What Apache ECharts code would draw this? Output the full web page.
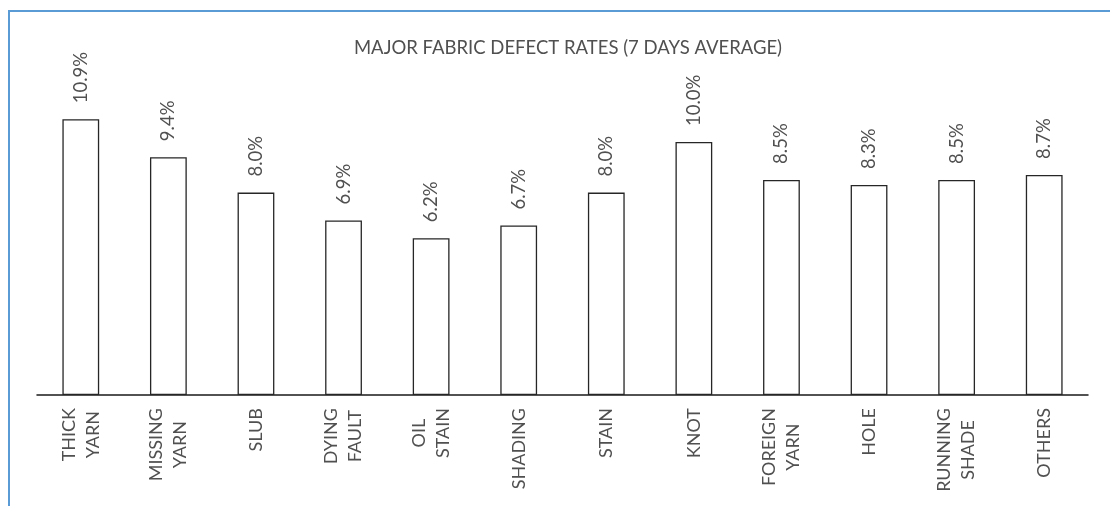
<!DOCTYPE html>
<html>
<head>
<meta charset="utf-8">
<title>Major Fabric Defect Rates</title>
<script src="https://cdn.jsdelivr.net/npm/echarts@6/dist/echarts.min.js"></script>
<style>
  html, body { margin: 0; padding: 0; background: #ffffff; }
  #chart { width: 1110px; height: 506px; }
</style>
</head>
<body>
<div id="chart"></div>
<script>
// Defect categories (two-line names are split on "\n")
const categories = [
  'THICK\nYARN', 'MISSING\nYARN', 'SLUB', 'DYING\nFAULT', 'OIL\nSTAIN', 'SHADING',
  'STAIN', 'KNOT', 'FOREIGN\nYARN', 'HOLE', 'RUNNING\nSHADE', 'OTHERS'
];
// 7-day average defect rate, in percent
const defectRates = [10.9, 9.4, 8.0, 6.9, 6.2, 6.7, 8.0, 10.0, 8.5, 8.3, 8.5, 8.7];
const chartTitle = 'MAJOR FABRIC DEFECT RATES (7 DAYS AVERAGE)';

const FONT = 'Lato, "Open Sans", sans-serif';
const TEXT_COLOR = '#505050';

const chart = echarts.init(document.getElementById('chart'), null, { renderer: 'canvas' });

chart.setOption({
  animation: false,
  backgroundColor: '#ffffff',
  title: {
    text: chartTitle,
    left: 563,
    top: 34,
    textAlign: 'center',
    textStyle: { fontFamily: FONT, fontSize: 18.5, fontWeight: 'normal', color: TEXT_COLOR }
  },
  // chart-area frame
  graphic: [{
    type: 'rect',
    shape: { x: 9, y: 11, width: 1120, height: 520 },
    style: { fill: 'none', stroke: '#5B9BD5', lineWidth: 2 },
    silent: true
  }],
  grid: { left: 37, right: 22, top: 91.4, bottom: 111 },
  xAxis: {
    type: 'category',
    data: categories,
    axisLine: { show: true, lineStyle: { color: '#1a1a1a', width: 1.5 } },
    axisTick: { show: false },
    axisLabel: {
      rotate: 90,
      margin: 13,
      interval: 0,
      color: TEXT_COLOR,
      fontFamily: FONT,
      fontSize: 18,
      lineHeight: 24,
      formatter: function (v) {
        return v.split('\n').map(function (s) { return '{c|' + s + '}'; }).join('\n');
      },
      rich: { c: { align: 'center', fontFamily: FONT, fontSize: 18, lineHeight: 24, color: TEXT_COLOR } }
    }
  },
  yAxis: {
    type: 'value',
    min: 0,
    max: 12,
    show: false,
    splitLine: { show: false }
  },
  series: [{
    type: 'bar',
    data: defectRates,
    barWidth: '42%',
    itemStyle: { color: '#ffffff', borderColor: '#262626', borderWidth: 1.3 },
    label: {
      show: true,
      position: 'top',
      distance: 16,
      rotate: 90,
      align: 'left',
      verticalAlign: 'middle',
      color: TEXT_COLOR,
      fontFamily: FONT,
      fontSize: 18.5,
      formatter: function (p) { return p.value.toFixed(1) + '%'; }
    }
  }]
});
</script>
</body>
</html>
